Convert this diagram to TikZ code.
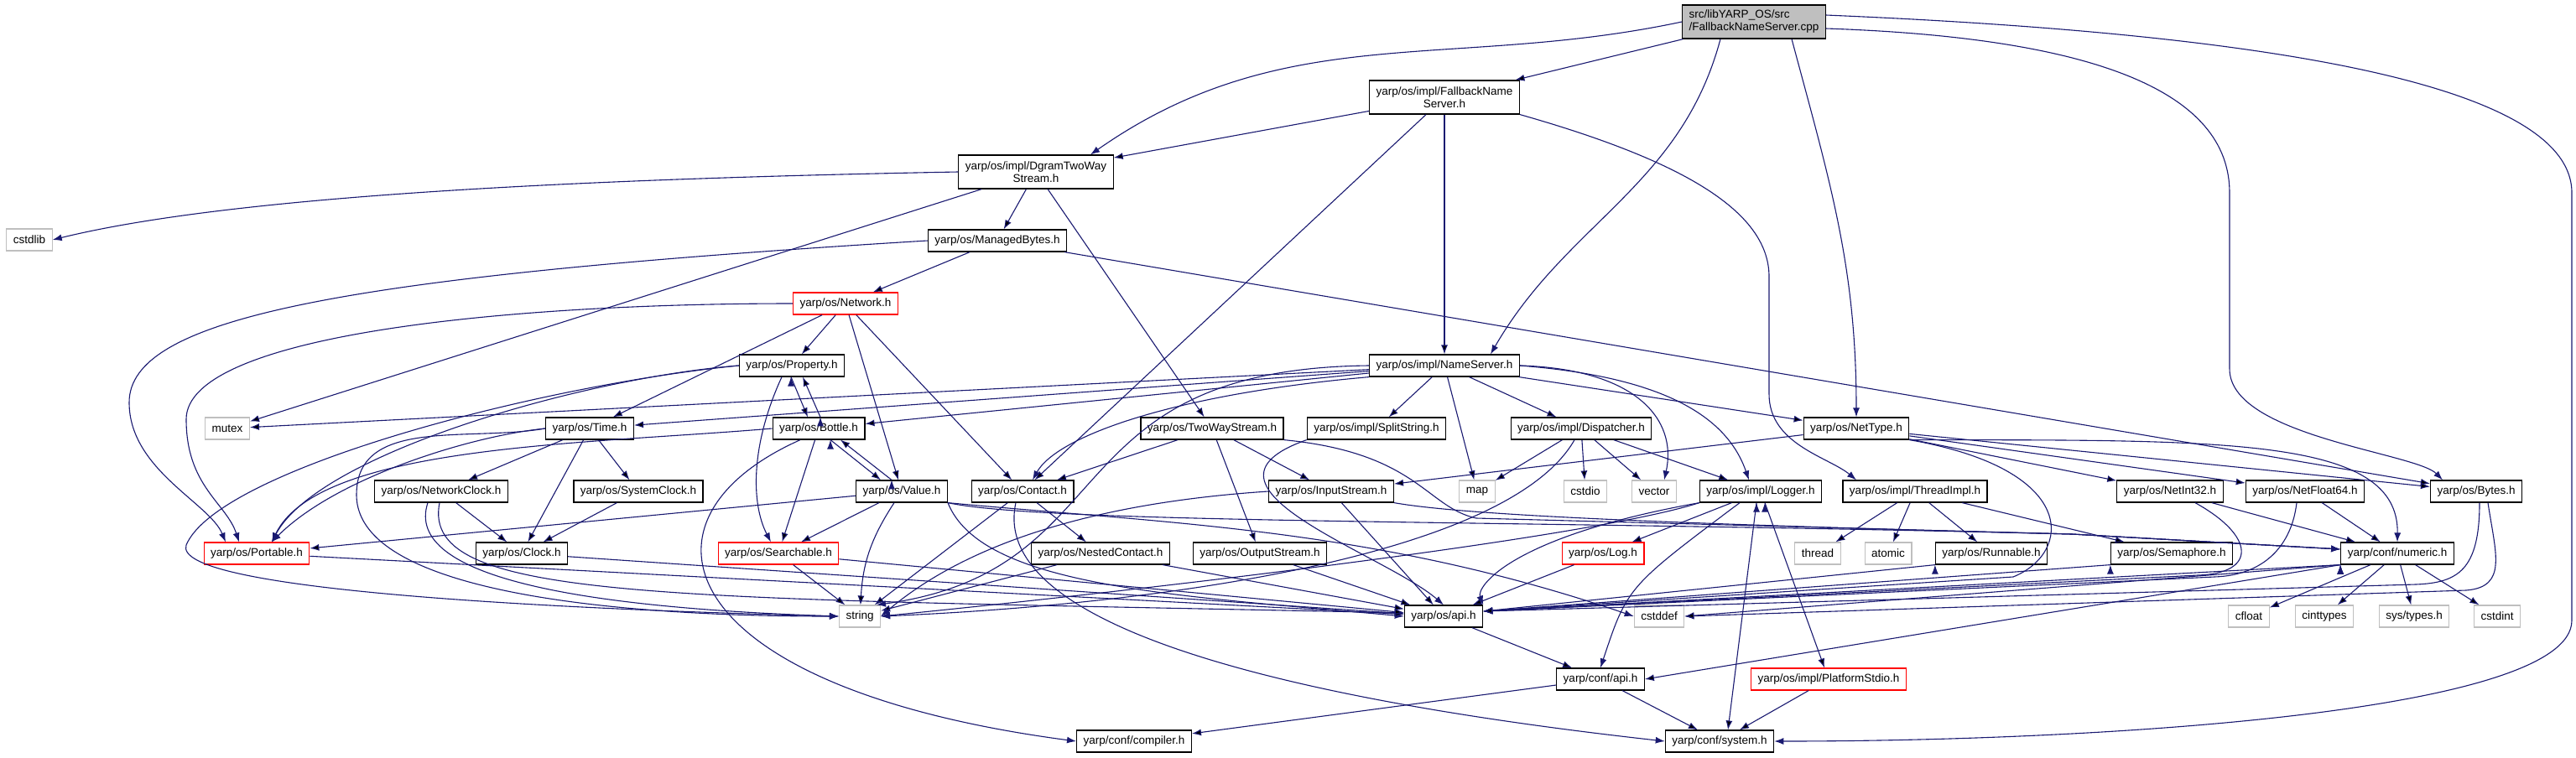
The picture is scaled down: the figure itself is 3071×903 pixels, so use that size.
\documentclass[tikz,border=0pt]{standalone}
\usepackage{fontspec}
\setmainfont{Liberation Sans}
\usetikzlibrary{arrows.meta}

\definecolor{edgeblue}{HTML}{191970}
\definecolor{sysgray}{HTML}{BFBFBF}

\begin{document}
\begin{tikzpicture}[x=1pt, y=1pt,
	every node/.style={font=\fontsize{13.5}{15}\selectfont},
	hdr/.style={draw=black, fill=white, line width=1.2pt, rectangle, inner xsep=8pt, inner ysep=3pt, minimum height=26pt, align=center},
	sys/.style={hdr, draw=sysgray},
	trunc/.style={hdr, draw=red},
	dep/.style={draw=edgeblue, line width=1.1pt, -{Latex[length=11pt, width=8pt]}}]

\useasboundingbox (0,0) rectangle (3071,-903);

\node [hdr, fill=sysgray, align=left, minimum height=40pt] (main) at (2091,-26) {src/libYARP\_OS/src\\/FallbackNameServer.cpp};
\node [hdr, minimum height=40pt] (fns) at (1722,-116) {yarp/os/impl/FallbackName\\Server.h};
\node [hdr, minimum height=40pt] (dgram) at (1235,-205) {yarp/os/impl/DgramTwoWay\\Stream.h};

\node [sys] (cstdlib) at (35,-286) {cstdlib};
\node [hdr] (managed) at (1189,-287) {yarp/os/ManagedBytes.h};
\node [trunc] (network) at (1008,-362) {yarp/os/Network.h};
\node [hdr] (property) at (944,-436) {yarp/os/Property.h};
\node [hdr] (nameserver) at (1722,-436) {yarp/os/impl/NameServer.h};

\node [sys] (mutex) at (271,-511) {mutex};
\node [hdr] (time) at (703,-511) {yarp/os/Time.h};
\node [hdr] (bottle) at (976,-511) {yarp/os/Bottle.h};
\node [hdr] (twoway) at (1445,-511) {yarp/os/TwoWayStream.h};
\node [hdr] (split) at (1641,-511) {yarp/os/impl/SplitString.h};
\node [hdr] (dispatcher) at (1885,-511) {yarp/os/impl/Dispatcher.h};
\node [hdr] (nettype) at (2213,-511) {yarp/os/NetType.h};

\node [hdr] (netclock) at (526,-586) {yarp/os/NetworkClock.h};
\node [hdr] (sysclock) at (761,-586) {yarp/os/SystemClock.h};
\node [hdr] (value) at (1075,-586) {yarp/os/Value.h};
\node [hdr] (contact) at (1219,-586) {yarp/os/Contact.h};
\node [hdr] (instream) at (1587,-586) {yarp/os/InputStream.h};
\node [sys] (map) at (1761,-586) {map};
\node [sys] (cstdio) at (1890,-586) {cstdio};
\node [sys] (vector) at (1972,-586) {vector};
\node [hdr] (logger) at (2099,-586) {yarp/os/impl/Logger.h};
\node [hdr] (threadimpl) at (2283,-586) {yarp/os/impl/ThreadImpl.h};
\node [hdr] (netint) at (2587,-586) {yarp/os/NetInt32.h};
\node [hdr] (netfloat) at (2748,-586) {yarp/os/NetFloat64.h};
\node [hdr] (bytes) at (2952,-586) {yarp/os/Bytes.h};

\node [trunc] (portable) at (306,-660) {yarp/os/Portable.h};
\node [hdr] (clock) at (622,-660) {yarp/os/Clock.h};
\node [trunc] (searchable) at (928,-660) {yarp/os/Searchable.h};
\node [hdr] (nested) at (1312,-660) {yarp/os/NestedContact.h};
\node [hdr] (outstream) at (1502,-660) {yarp/os/OutputStream.h};
\node [trunc] (log) at (1911,-660) {yarp/os/Log.h};
\node [sys] (thread) at (2167,-660) {thread};
\node [sys] (atomic) at (2251,-660) {atomic};
\node [hdr] (runnable) at (2374,-660) {yarp/os/Runnable.h};
\node [hdr] (semaphore) at (2589,-660) {yarp/os/Semaphore.h};
\node [hdr] (numeric) at (2858,-660) {yarp/conf/numeric.h};

\node [sys] (string) at (1025,-735) {string};
\node [hdr] (osapi) at (1721,-735) {yarp/os/api.h};
\node [sys] (cstddef) at (1978,-735) {cstddef};
\node [sys] (cfloat) at (2681,-735) {cfloat};
\node [sys] (cinttypes) at (2771,-735) {cinttypes};
\node [sys] (systypes) at (2878,-735) {sys/types.h};
\node [sys] (cstdint) at (2977,-735) {cstdint};

\node [hdr] (confapi) at (1908,-810) {yarp/conf/api.h};
\node [trunc] (stdio) at (2180,-810) {yarp/os/impl/PlatformStdio.h};
\node [hdr] (compiler) at (1352,-884) {yarp/conf/compiler.h};
\node [hdr] (system) at (2050,-884) {yarp/conf/system.h};

\path [dep] (main) edge (fns);
\draw [dep] (main.west) to[out=192, in=35] ([xshift=65pt]dgram.north);
\draw [dep] ([xshift=-40pt]main.south) to[out=-105, in=60] ([xshift=55pt]nameserver.north);
\draw [dep] ([xshift=45pt]main.south) to[out=-75, in=90] (nettype.north);
\draw [dep] ([yshift=-8pt]main.east) .. controls (2500,-45) and (2658,-110) .. (2658,-230) -- (2658,-440) .. controls (2658,-520) and (2880,-540) .. ([xshift=-40pt]bytes.north);
\draw [dep] ([yshift=8pt]main.east) .. controls (2700,-40) and (3066,-100) .. (3066,-230) -- (3066,-740) .. controls (3066,-850) and (2500,-884) .. (system.east);

\path [dep] (fns) edge (dgram);
\path [dep] (fns) edge (contact);
\path [dep] (fns) edge (nameserver);
\draw [dep] (fns.south east) .. controls (2000,-190) and (2109,-250) .. (2109,-330) -- (2109,-470) .. controls (2109,-530) and (2180,-545) .. ([xshift=-70pt]threadimpl.north);

\draw [dep] (dgram.west) .. controls (600,-215) and (250,-240) .. (cstdlib.east);
\path [dep] (dgram) edge (mutex);
\path [dep] (dgram) edge (managed);
\path [dep] (dgram) edge (twoway);

\draw [dep] (managed.west) .. controls (400,-330) and (154,-380) .. (154,-480) .. controls (154,-560) and (250,-600) .. ([xshift=-37pt]portable.north);
\path [dep] (managed) edge (network);
\path [dep] (managed) edge (bytes);

\draw [dep] (network.west) .. controls (600,-362) and (222,-400) .. (222,-500) .. controls (222,-580) and (270,-600) .. ([xshift=-21pt]portable.north);
\path [dep] (network) edge (time);
\path [dep] (network) edge (property);
\path [dep] (network) edge (value);
\path [dep] (network) edge (contact);

\path [dep] ([xshift=-1pt]property.south) edge ([xshift=-13pt]bottle.north);
\draw [dep] ([xshift=-12pt]property.south) .. controls (895,-530) and (895,-600) .. ([xshift=-9pt]searchable.north);
\draw [dep] (property.west) .. controls (700,-450) and (380,-540) .. ([xshift=18pt]portable.north);
\draw [dep] (property.west) .. controls (640,-460) and (260,-560) .. (222,-650) .. controls (205,-700) and (600,-725) .. (string.west);

\path [dep] ([xshift=2pt]bottle.north) edge ([xshift=13pt]property.south);
\path [dep] ([xshift=14pt]bottle.south) edge ([xshift=-25pt]value.north);
\path [dep] (bottle) edge (searchable);
\draw [dep] (bottle.west) .. controls (700,-530) and (380,-530) .. ([xshift=18pt]portable.north);
\draw [dep] ([xshift=-22pt]bottle.south) .. controls (740,-620) and (800,-820) .. (compiler.west);

\path [dep] ([xshift=-12pt]value.north) edge ([xshift=26pt]bottle.south);
\path [dep] (value) edge (searchable);
\path [dep] (value) edge (portable);
\path [dep] (value) edge[bend right=15] (string);
\draw [dep] (value.south east) .. controls (1400,-625) and (1640,-630) .. (cstddef.west);
\draw [dep] (value.south east) .. controls (1170,-700) and (1400,-710) .. (osapi.west);
\draw [dep] (value.south east) .. controls (1250,-625) and (1800,-620) .. (2470,-637) -- ([yshift=5pt]numeric.west);

\path [dep] (contact) edge (nested);
\path [dep] (contact) edge (string);
\draw [dep] ([xshift=-8pt]contact.south) .. controls (1180,-740) and (1500,-830) .. (system.west);

\path [dep] (nested) edge (string);
\path [dep] (nested) edge (osapi);

\path [dep] (twoway) edge (contact);
\path [dep] (twoway) edge (instream);
\path [dep] (twoway) edge (outstream);
\draw [dep] (twoway.south east) .. controls (1690,-540) and (1700,-605) .. (1760,-618) -- (2470,-637) -- ([yshift=5pt]numeric.west);

\path [dep] (instream) edge (osapi);
\draw [dep] (instream.west) .. controls (1300,-600) and (1150,-650) .. (string.east);
\draw [dep] (instream.south east) .. controls (1750,-615) and (2000,-625) .. (2470,-637) -- ([yshift=5pt]numeric.west);

\path [dep] (outstream) edge (osapi);

\path [dep] (nameserver) edge (mutex);
\path [dep] (nameserver) edge (time);
\path [dep] (nameserver) edge (bottle);
\draw [dep] (nameserver.south west) .. controls (1400,-470) and (1260,-520) .. ([xshift=12pt]contact.north);
\draw [dep] (nameserver.west) .. controls (1250,-440) and (1345,-680) .. ([xshift=20pt]string.north);
\path [dep] (nameserver) edge (split);
\path [dep] (nameserver) edge (map);
\path [dep] (nameserver) edge (dispatcher);
\draw [dep] (nameserver.east) .. controls (1950,-440) and (2000,-500) .. ([xshift=12pt]vector.north);
\draw [dep] (nameserver.east) .. controls (1990,-450) and (2060,-500) .. ([xshift=-14pt]logger.north);
\path [dep] (nameserver) edge (nettype);

\path [dep] (dispatcher) edge (map);
\path [dep] (dispatcher) edge (cstdio);
\path [dep] (dispatcher) edge (vector);
\path [dep] (dispatcher) edge (logger);
\draw [dep] ([xshift=-8pt]dispatcher.south) .. controls (1800,-660) and (1400,-720) .. (string.east);

\draw [dep] (split.south west) .. controls (1400,-580) and (1650,-660) .. (osapi.north);

\path [dep] (logger) edge (log);
\draw [dep] (logger.south west) .. controls (1800,-640) and (1760,-700) .. (osapi.north east);
\draw [dep] (logger.south west) .. controls (1900,-640) and (1400,-700) .. (string.east);
\draw [dep] ([xshift=-25pt]logger.south) .. controls (1940,-700) .. (confapi.north);
\path [dep] ([xshift=-5pt]logger.south) edge ([xshift=10pt]system.north);
\path [dep] ([xshift=5pt]logger.south) edge ([xshift=-5pt]stdio.north);

\path [dep] (log) edge (osapi);

\path [dep] (threadimpl) edge (thread);
\path [dep] (threadimpl) edge (atomic);
\path [dep] (threadimpl) edge (runnable);
\path [dep] (threadimpl) edge (semaphore);
\path [dep] (runnable.south west) edge ([yshift=6pt]osapi.east);
\path [dep] (semaphore.south west) edge ([yshift=6pt]osapi.east);

\path [dep] (nettype) edge (instream);
\path [dep] (nettype) edge (netint);
\path [dep] (nettype) edge (netfloat);
\path [dep] (nettype) edge (bytes);
\draw [dep] (nettype.south east) .. controls (2650,-525) and (2860,-520) .. (numeric.north);
\draw [dep] (nettype.south east) .. controls (2480,-560) and (2470,-660) .. (2400,-688) -- ([yshift=6pt]osapi.east);

\path [dep] (netint) edge (numeric);
\draw [dep] ([xshift=30pt]netint.south) .. controls (2690,-640) and (2690,-684) .. (2620,-686) -- ([yshift=6pt]osapi.east);
\path [dep] (netfloat) edge (numeric);
\draw [dep] ([xshift=-10pt]netfloat.south) .. controls (2732,-650) and (2700,-686) .. (2640,-688) -- ([yshift=6pt]osapi.east);

\draw [dep] ([xshift=4pt]bytes.south) .. controls (2956,-680) and (2930,-695) .. (2880,-697) -- ([yshift=6pt]osapi.east);
\draw [dep] ([xshift=14pt]bytes.south) .. controls (2975,-660) and (2990,-700) .. (2940,-704) -- (cstddef.east);

\path [dep] (numeric) edge (cfloat);
\path [dep] (numeric) edge (cinttypes);
\path [dep] (numeric) edge (systypes);
\path [dep] (numeric) edge (cstdint);
\path [dep] (numeric.south west) edge ([yshift=6pt]osapi.east);
\path [dep] (numeric.south west) edge (cstddef.east);
\path [dep] (numeric.south west) edge (confapi.east);

\path [dep] (time) edge (netclock);
\path [dep] (time) edge (sysclock);
\path [dep] (time) edge (clock);
\draw [dep] (time.west) .. controls (560,-520) and (400,-570) .. ([xshift=18pt]portable.north);
\draw [dep] (time.west) to[out=190, in=90] (425,-590) to[out=-90, in=180, looseness=0.6] (string.west);

\path [dep] (netclock) edge (clock);
\path [dep] (sysclock) edge (clock);
\draw [dep] ([xshift=-16pt]netclock.south) .. controls (480,-690) and (700,-725) .. (string.west);
\draw [dep] ([xshift=-2pt]netclock.south) .. controls (500,-720) and (800,-712) .. ([yshift=4pt]osapi.west);

\path [dep] (clock) edge (osapi);
\path [dep] (portable) edge (osapi);

\path [dep] (searchable) edge (string);
\path [dep] (searchable) edge (osapi);

\path [dep] (osapi) edge (confapi);
\path [dep] (confapi) edge (compiler);
\path [dep] (confapi) edge (system);
\path [dep] (stdio) edge (system);

\end{tikzpicture}
\end{document}
